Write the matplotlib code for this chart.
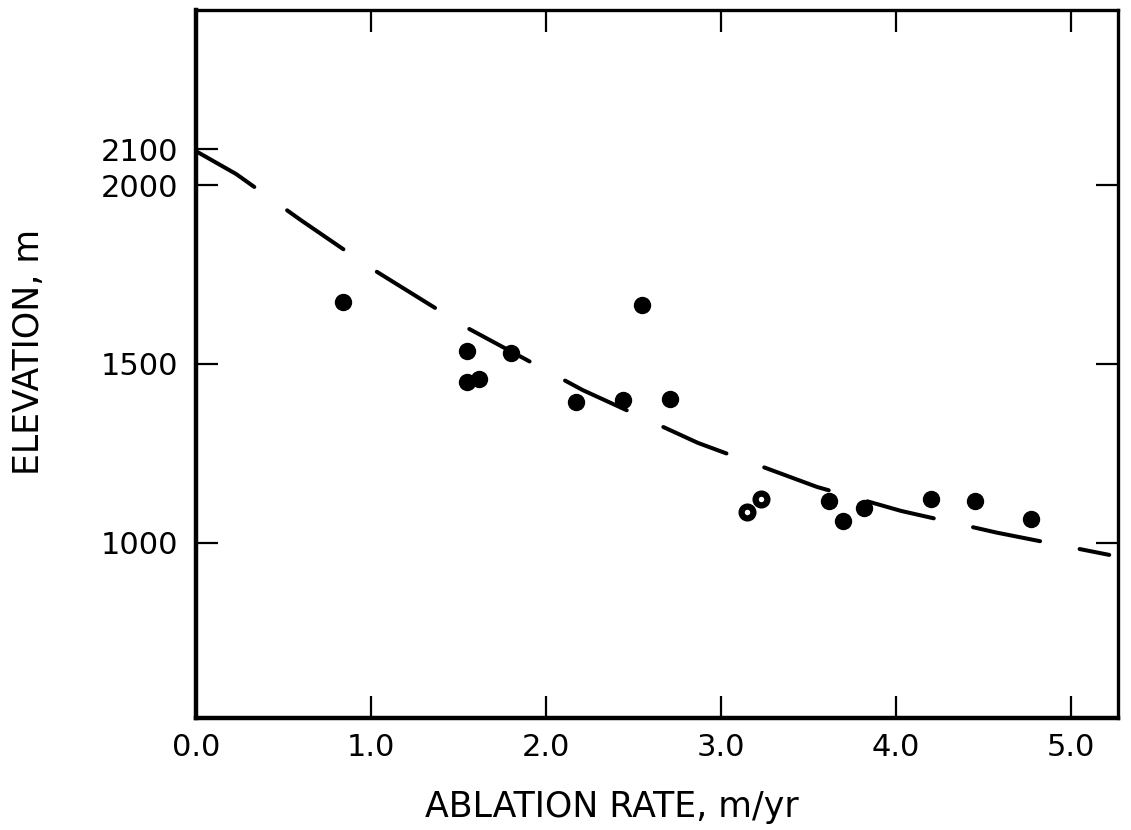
import matplotlib
matplotlib.use("Agg")
import matplotlib.pyplot as plt

# measured points (ablation rate m/yr, elevation m)
rate = [0.84, 1.55, 1.55, 1.62, 1.80, 2.17, 2.44, 2.55, 2.71,
        3.62, 3.70, 3.82, 4.20, 4.45, 4.77]
elev = [1673, 1536, 1450, 1458, 1531, 1394, 1399, 1665, 1402,
        1117, 1061, 1098, 1123, 1117, 1067]

# two points drawn as rings
ring_rate = [3.15, 3.23]
ring_elev = [1087, 1123]

# dashed trend curve
curve_rate = [0.0, 0.23, 0.6, 1.0, 1.55, 2.21, 2.87, 3.55, 4.03, 4.58, 5.22]
curve_elev = [2095, 2031, 1902, 1768, 1601, 1427, 1279, 1156, 1089, 1028, 966]

x_ticks = [0.0, 1.0, 2.0, 3.0, 4.0, 5.0]
x_labels = ["0.0", "1.0", "2.0", "3.0", "4.0", "5.0"]
y_ticks = [1000, 1500, 2000]
y_labels = ["1000", "1500", "2000"]
y_extra = [2100]  # labelled on the left only
y_extra_labels = ["2100"]

plt.rcParams['font.family'] = ['DejaVu Sans']

fig = plt.figure(figsize=(11.31, 8.30), dpi=100)
ax = fig.add_axes([0.1733, 0.135, 0.8152, 0.853])

ax.plot(curve_rate, curve_elev, color='black', lw=2.9, dashes=(17, 10),
        dash_capstyle='round')
ax.plot(rate, elev, 'o', color='black', markersize=11.5, linestyle='none')
ax.plot(ring_rate, ring_elev, 'o', color='black', markerfacecolor='white',
        markeredgewidth=4.5, markersize=8.5, linestyle='none')

ax.set_xlim(0, 5.27)
ax.set_ylim(510, 2490)

ax.set_xticks(x_ticks)
ax.set_xticklabels(x_labels)
ax.set_yticks(y_ticks)
ax.set_yticklabels(y_labels)
ax.set_yticks(y_extra, minor=True)
ax.set_yticklabels(y_extra_labels, minor=True)

ax.tick_params(which='both', direction='in', length=16, width=1.6,
               labelsize=22, top=True, right=True)
ax.tick_params(axis='y', which='minor', right=False)
ax.tick_params(axis='x', pad=11)
ax.tick_params(axis='y', which='both', pad=13)

for side in ['left', 'bottom']:
    ax.spines[side].set_linewidth(3.2)
for side in ['top', 'right']:
    ax.spines[side].set_linewidth(2.4)

ax.set_xlabel('ABLATION RATE, m/yr', fontsize=25)
ax.set_ylabel('ELEVATION, m', fontsize=25)
ax.xaxis.set_label_coords(0.451, -0.102)
ax.yaxis.set_label_coords(-0.163, 0.517)

fig.savefig('out.png', dpi=100)
